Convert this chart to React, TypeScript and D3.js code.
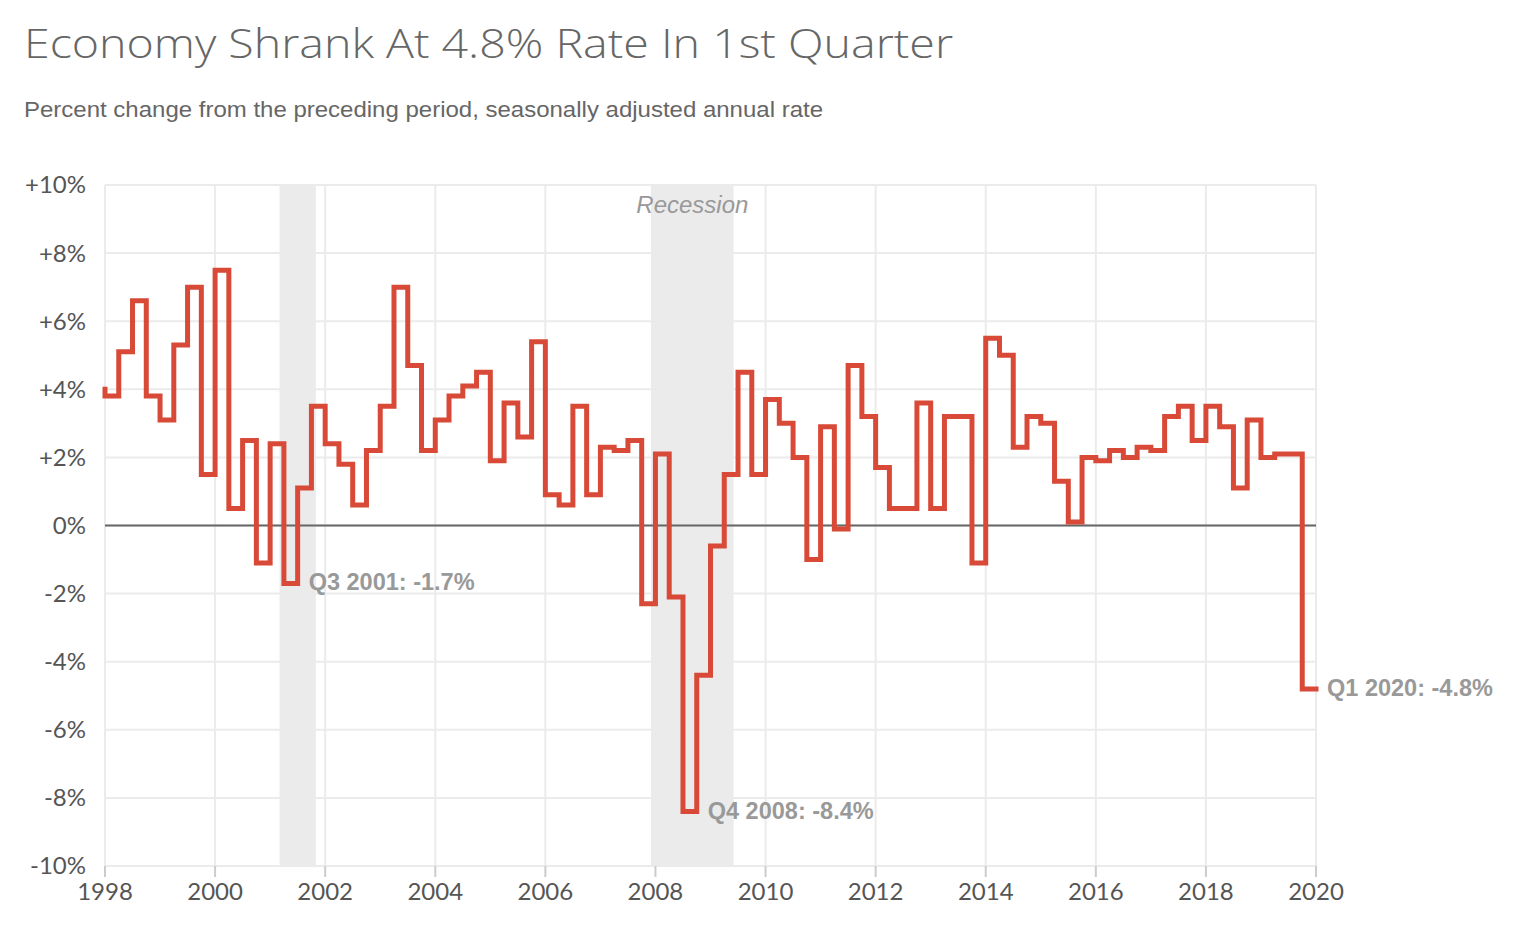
import React, { useEffect, useRef } from 'react';
import * as d3 from 'd3';

// Real GDP, % change from preceding quarter, SAAR. Q1 1998 .. Q1 2020
const firstYear = 1998;
const growth = [
  4.0, 3.8, 5.1, 6.6, // 1998
  3.8, 3.1, 5.3, 7.0, // 1999
  1.5, 7.5, 0.5, 2.5, // 2000
  -1.1, 2.4, -1.7, 1.1, // 2001
  3.5, 2.4, 1.8, 0.6, // 2002
  2.2, 3.5, 7.0, 4.7, // 2003
  2.2, 3.1, 3.8, 4.1, // 2004
  4.5, 1.9, 3.6, 2.6, // 2005
  5.4, 0.9, 0.6, 3.5, // 2006
  0.9, 2.3, 2.2, 2.5, // 2007
  -2.3, 2.1, -2.1, -8.4, // 2008
  -4.4, -0.6, 1.5, 4.5, // 2009
  1.5, 3.7, 3.0, 2.0, // 2010
  -1.0, 2.9, -0.1, 4.7, // 2011
  3.2, 1.7, 0.5, 0.5, // 2012
  3.6, 0.5, 3.2, 3.2, // 2013
  -1.1, 5.5, 5.0, 2.3, // 2014
  3.2, 3.0, 1.3, 0.1, // 2015
  2.0, 1.9, 2.2, 2.0, // 2016
  2.3, 2.2, 3.2, 3.5, // 2017
  2.5, 3.5, 2.9, 1.1, // 2018
  3.1, 2.0, 2.1, 2.1, // 2019
  -4.8, // 2020
];

const recessions = [
  [2001.17, 2001.83],
  [2007.92, 2009.42],
];

const callouts = [
  { index: 14, text: 'Q3 2001: -1.7%' },
  { index: 43, text: 'Q4 2008: -8.4%' },
  { index: 88, text: 'Q1 2020: -4.8%' },
];

const xTicks = d3.range(1998, 2021, 2);
const yTicks = d3.range(-10, 11, 2);

const W = 1526;
const H = 935;
const margin = { top: 185, right: 210, bottom: 69, left: 105 };

export default function App() {
  const svgRef = useRef<SVGSVGElement>(null);

  useEffect(() => {
    if (!svgRef.current) return;
    const svg = d3.select(svgRef.current);
    svg.selectAll('*').remove();

    const x = d3.scaleLinear().domain([1998, 2020]).range([margin.left, W - margin.right]);
    const y = d3.scaleLinear().domain([-10, 10]).range([H - margin.bottom, margin.top]);

    const points = growth.map((v, i) => ({ t: firstYear + i / 4, v }));

    // titles
    svg.append('text')
      .attr('x', 24).attr('y', 58)
      .attr('fill', '#666')
      .attr('textLength', 929).attr('lengthAdjust', 'spacingAndGlyphs')
      .style('font-family', '"Open Sans", sans-serif')
      .style('font-weight', '300')
      .style('font-size', '40px')
      .text('Economy Shrank At 4.8% Rate In 1st Quarter');

    svg.append('text')
      .attr('x', 24).attr('y', 117)
      .attr('fill', '#666')
      .attr('textLength', 799).attr('lengthAdjust', 'spacingAndGlyphs')
      .style('font-family', '"Liberation Sans", Arial, sans-serif')
      .style('font-size', '22px')
      .text('Percent change from the preceding period, seasonally adjusted annual rate');

    // recession bands
    svg.append('g').selectAll('rect')
      .data(recessions)
      .join('rect')
      .attr('x', d => x(d[0]))
      .attr('width', d => x(d[1]) - x(d[0]))
      .attr('y', y(10))
      .attr('height', y(-10) - y(10))
      .attr('fill', '#ebebeb');

    // grid
    const grid = svg.append('g').attr('stroke', '#ebebeb').attr('stroke-width', 2);
    grid.selectAll('line.h')
      .data(yTicks)
      .join('line')
      .attr('class', 'h')
      .attr('x1', x(1998)).attr('x2', x(2020))
      .attr('y1', d => y(d)).attr('y2', d => y(d));
    grid.selectAll('line.v')
      .data(xTicks)
      .join('line')
      .attr('class', 'v')
      .attr('x1', d => x(d)).attr('x2', d => x(d))
      .attr('y1', y(10)).attr('y2', y(-10));

    // x tick marks + labels
    svg.append('g').selectAll('line')
      .data(xTicks)
      .join('line')
      .attr('x1', d => x(d)).attr('x2', d => x(d))
      .attr('y1', y(-10)).attr('y2', y(-10) + 11)
      .attr('stroke', '#ccc').attr('stroke-width', 2);

    svg.append('g').selectAll('text')
      .data(xTicks)
      .join('text')
      .attr('x', d => x(d))
      .attr('y', 900)
      .attr('text-anchor', 'middle')
      .attr('fill', '#555')
      .style('font-family', 'Lato, sans-serif')
      .style('font-size', '24px')
      .text(d => String(d));

    svg.append('g').selectAll('text')
      .data(yTicks)
      .join('text')
      .attr('x', 86)
      .attr('y', d => y(d))
      .attr('dy', '0.35em')
      .attr('text-anchor', 'end')
      .attr('fill', '#555')
      .style('font-family', 'Lato, sans-serif')
      .style('font-size', '24px')
      .text(d => (d > 0 ? `+${d}%` : `${d}%`));

    // zero line
    svg.append('line')
      .attr('x1', x(1998)).attr('x2', x(2020))
      .attr('y1', y(0)).attr('y2', y(0))
      .attr('stroke', '#666').attr('stroke-width', 2);

    svg.append('text')
      .attr('x', (x(recessions[1][0]) + x(recessions[1][1])) / 2)
      .attr('y', 213)
      .attr('text-anchor', 'middle')
      .attr('fill', '#999')
      .style('font-family', '"Liberation Sans", Arial, sans-serif')
      .style('font-style', 'italic')
      .style('font-size', '24px')
      .text('Recession');

    // the step line: each quarter's value drawn over the span ending at its date
    const line = d3.line<{ t: number; v: number }>()
      .x(d => x(d.t))
      .y(d => y(d.v))
      .curve(d3.curveStepBefore);

    svg.append('path')
      .datum(points)
      .attr('d', line)
      .attr('fill', 'none')
      .attr('stroke', '#d84a37')
      .attr('stroke-width', 5)
      .attr('stroke-linejoin', 'miter')
      .attr('stroke-linecap', 'square');

    svg.append('g').selectAll('text')
      .data(callouts)
      .join('text')
      .attr('x', d => x(points[d.index].t) + 11)
      .attr('y', d => y(points[d.index].v))
      .attr('dy', '0.3em')
      .attr('fill', '#999')
      .style('font-family', '"Liberation Sans", Arial, sans-serif')
      .style('font-weight', '700')
      .style('font-size', '23.5px')
      .text(d => d.text);
  }, []);

  return (
    <div style={{ position: 'absolute', left: 0, top: 0, background: '#fff' }}>
      <svg ref={svgRef} width={W} height={H} style={{ display: 'block' }} />
    </div>
  );
}
